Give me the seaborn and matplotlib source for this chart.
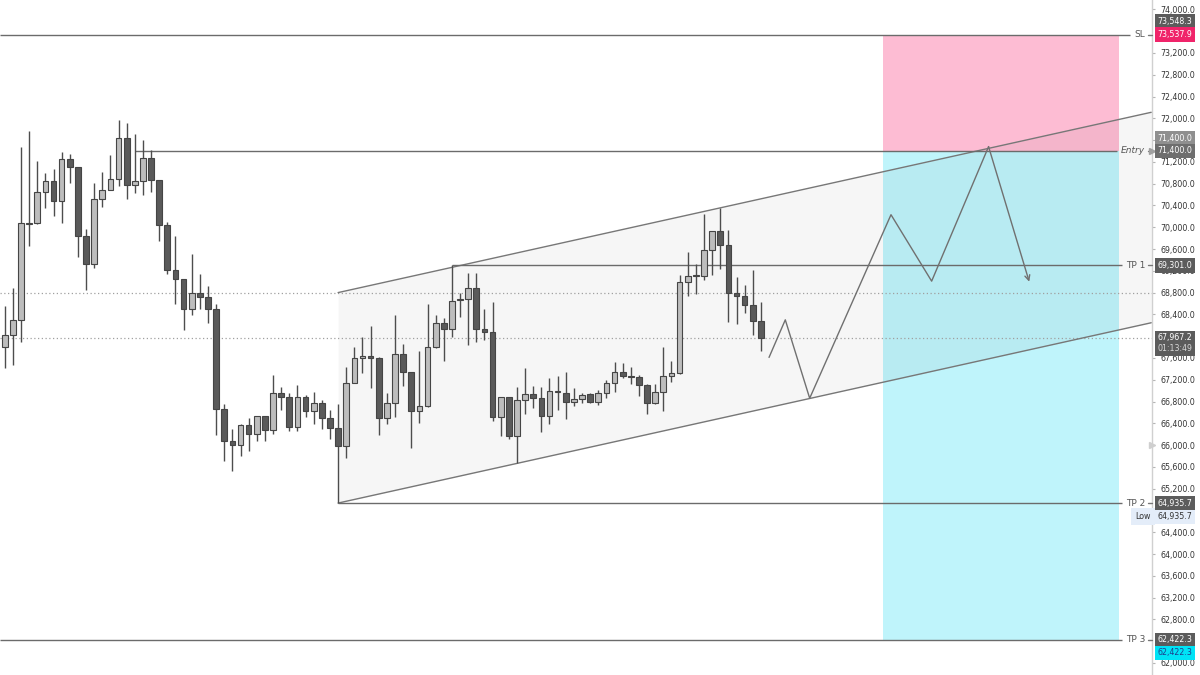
import matplotlib
matplotlib.use("Agg")
import matplotlib.pyplot as plt
import matplotlib.transforms as mtransforms
from matplotlib.ticker import FuncFormatter
import numpy as np
import pandas as pd
import seaborn as sns

# candles (oldest -> newest)
opens = [67810, 68030, 68300, 70060, 70070, 70640, 70850, 70490, 71250, 71110,
         69830, 69320, 70510, 70680, 70890, 71630, 70770, 70840, 71280, 70870,
         70040, 69220, 69050, 68490, 68790, 68720, 68490, 66660, 66080, 66000,
         66370, 66200, 66530, 66280, 66960, 66880, 66340, 66880, 66630, 66770,
         66500, 66310, 65980, 67140, 67590, 67640, 67590, 66490, 66770, 67670,
         67340, 66630, 66710, 67800, 68240, 68130, 68660, 68680, 68880, 68130,
         68080, 66520, 66880, 66170, 66820, 66940, 66860, 66540, 66980, 66960,
         66800, 66850, 66930, 66800, 66960, 67140, 67340, 67260, 67250, 67100,
         66770, 66970, 67260, 67320, 68990, 69100, 69110, 69580, 69930, 69670,
         68790, 68740, 68570, 68280]
highs = [68560, 68880, 71480, 71770, 71220, 70990, 71060, 71380, 71340, 71110,
         69970, 70810, 71020, 71330, 71970, 71920, 71710, 71610, 71420, 70870,
         70100, 69840, 69050, 69500, 69150, 68920, 68590, 66750, 66290, 66390,
         66490, 66530, 66530, 67290, 67070, 66960, 67100, 66920, 66970, 66830,
         66640, 66750, 67440, 67800, 67980, 68190, 67610, 66950, 68390, 67860,
         67340, 67730, 68590, 68390, 68330, 69301, 68800, 69160, 69160, 68490,
         68630, 66890, 66880, 67070, 67410, 67090, 67060, 67230, 67260, 67340,
         67040, 66960, 66960, 67020, 67200, 67530, 67510, 67440, 67290, 67120,
         67120, 67810, 67540, 69120, 69550, 69330, 70240, 69930, 70350, 69950,
         69090, 68940, 69220, 68630]
lows = [67410, 67470, 67890, 69650, 70060, 70350, 70210, 70070, 70810, 69460,
        68850, 69250, 70380, 70680, 70760, 70520, 70630, 70590, 70650, 69750,
        69150, 68590, 68110, 68380, 68490, 68250, 66190, 65710, 65520, 65800,
        65890, 66080, 66080, 66200, 66640, 66250, 66250, 66520, 66390, 66290,
        66120, 64935.7, 65760, 67140, 67330, 67050, 66190, 66390, 66510, 67090,
        65950, 66410, 66700, 67790, 67540, 67980, 68350, 67840, 67900, 67930,
        66450, 66170, 66110, 65670, 66570, 66690, 66240, 66380, 66640, 66470,
        66720, 66780, 66780, 66740, 66860, 66980, 67230, 67130, 66910, 66570,
        66750, 66630, 67150, 67300, 68730, 68770, 69030, 69120, 69230, 68260,
        68220, 68430, 68020, 67730]
closes = [68030, 68300, 70070, 70080, 70640, 70850, 70490, 71250, 71110, 69830,
          69320, 70510, 70680, 70890, 71630, 70780, 70840, 71280, 70870, 70040,
          69220, 69050, 68490, 68790, 68720, 68490, 66660, 66080, 66000, 66370,
          66200, 66530, 66280, 66960, 66880, 66340, 66880, 66630, 66770, 66500,
          66310, 65980, 67140, 67590, 67640, 67590, 66490, 66770, 67670, 67340,
          66630, 66710, 67800, 68240, 68130, 68650, 68680, 68880, 68130, 68080,
          66520, 66880, 66170, 66820, 66940, 66860, 66540, 67000, 67000, 66800,
          66850, 66920, 66800, 66960, 67140, 67340, 67260, 67250, 67100, 66770,
          66970, 67260, 67320, 68990, 69100, 69110, 69580, 69930, 69670, 68790,
          68740, 68570, 68280, 67967.2]

# trade levels: (label, price, bar where the line starts; None = left edge)
level_names = ["SL", "Entry", "TP 1", "TP 2", "TP 3"]
level_prices = [73537.9, 71400.0, 69301.0, 64935.7, 62422.3]
level_starts = [None, 16, 55, 41, None]

# dotted reference lines
dotted_prices = [68790, 67967.2]

# parallel channel anchors
channel_x = [41, 141]
channel_low = [64935.7, 68246]
channel_high = [68800, 72110]

# long/short position box
box_x = [108, 137]

# projected path
path_x = [94, 96, 99, 109, 114, 121, 126]
path_y = [67610, 68300, 66860, 70230, 69010, 71480, 69000]

# price axis (labels hidden behind the price tags are left out)
hidden_ticks = [73600, 71400, 68000, 64800, 62400]
tick_prices = [p for p in range(62000, 74001, 400) if p not in hidden_ticks]
ylim = (61779, 74172)
xlim = (-0.58, 141.1)

df = pd.DataFrame({"open": opens, "high": highs, "low": lows, "close": closes})
df["bar"] = np.arange(len(df))
df["up"] = df["close"] >= df["open"]

sns.set_theme(style="white")
plt.rcParams["font.family"] = ["DejaVu Sans"]

fig = plt.figure(figsize=(12, 6.75), dpi=100)
ax = fig.add_axes([0, 0, 1152 / 1200, 1])
ax.set_xlim(*xlim)
ax.set_ylim(*ylim)
blend = mtransforms.blended_transform_factory(ax.transAxes, ax.transData)

line_col = "#6b6b6b"

# position box
sl, entry, tp3 = level_prices[0], level_prices[1], level_prices[4]
ax.fill_between(box_x, entry, sl, color="#fdbcd3", lw=0, zorder=1)
ax.fill_between(box_x, tp3, entry, color="#bff4fb", lw=0, zorder=1)

# channel
ax.fill_between(channel_x, channel_low, channel_high, color="black", alpha=0.035,
                lw=0, zorder=2)
sns.lineplot(x=channel_x, y=channel_high, ax=ax, color="#777777", lw=1, zorder=3)
sns.lineplot(x=channel_x, y=channel_low, ax=ax, color="#777777", lw=1, zorder=3)

# dotted lines
for p in dotted_prices:
    ax.axhline(p, color="#a0a0a0", lw=0.9, ls=(0, (1, 2)), zorder=2)

# candles
wick_col = "#4d4d4d"
ax.vlines(df["bar"], df["low"], df["high"], color=wick_col, lw=1, zorder=4)
body_bottom = df[["open", "close"]].min(axis=1)
body_height = (df["close"] - df["open"]).abs().clip(lower=18)
colors = np.where(df["up"], "#bdbdbd", "#5a5a5a")
ax.bar(df["bar"], body_height, bottom=body_bottom, width=0.7, color=colors,
       edgecolor="#454545", linewidth=0.8, zorder=5)

# projected path
sns.lineplot(x=path_x[:-1], y=path_y[:-1], ax=ax, sort=False, estimator=None,
             color="#707070", lw=1, zorder=6)
ax.annotate("", xy=(path_x[-1], path_y[-1]), xytext=(path_x[-2], path_y[-2]),
            arrowprops=dict(arrowstyle="->", color="#707070", lw=1,
                            mutation_scale=9, shrinkA=0, shrinkB=0), zorder=6)

# level lines with their labels
fig.canvas.draw()
renderer = fig.canvas.get_renderer()
for name, price, start in zip(level_names, level_prices, level_starts):
    t = ax.text(0.994, price, name, transform=blend, ha="right", va="center",
                fontsize=6.5, color="#555555",
                style="italic" if name == "Entry" else "normal", zorder=7)
    bb = t.get_window_extent(renderer)
    x_end = ax.transData.inverted().transform((bb.x0 - 4, 0))[0]
    x_start = xlim[0] if start is None else start
    ax.hlines(price, x_start, x_end, color=line_col, lw=1, zorder=3)
    ax.plot([0.9962, 1.0], [price, price], transform=blend, color="#777777",
            lw=1, clip_on=False, zorder=7)

# right price scale
ax.yaxis.tick_right()
ax.set_yticks(tick_prices)
ax.yaxis.set_major_formatter(FuncFormatter(lambda v, _: f"{v:,.1f}"))
ax.tick_params(axis="y", direction="out", length=2.5, width=0.8, color="#b5b5b5",
               labelsize=5.7, labelcolor="#333333", pad=3.5)
ax.set_xticks([])
for side in ["top", "left", "bottom"]:
    ax.spines[side].set_visible(False)
ax.spines["right"].set_color("#d0d0d0")
ax.spines["right"].set_linewidth(1)


def price_tag(text, price, fc, tc="white", dy=0.0):
    ax.annotate(text, xy=(1, price), xycoords=blend, xytext=(3.8, dy),
                textcoords="offset points", ha="left", va="center", fontsize=5.7,
                color=tc, annotation_clip=False, zorder=12,
                bbox=dict(boxstyle="square,pad=0.35", fc=fc, ec="none"))


price_tag("73,548.3", 73548.3, "#5c5c5c", dy=9.3)
price_tag("73,537.9", 73537.9, "#f0246a")
price_tag("71,400.0", 71400.0, "#8f8f8f", dy=8.8)
price_tag("71,400.0", 71400.0, "#6e6e6e")
price_tag("69,301.0", 69301.0, "#5c5c5c")
price_tag("67,967.2", 67967.2, "#5c5c5c")
price_tag("01:13:49", 67967.2, "#5c5c5c", tc="#d8d8d8", dy=-7.4)
price_tag("64,935.7", 64935.7, "#5c5c5c")
price_tag("64,935.7", 64935.7, "#e4edf9", tc="#333333", dy=-10)
ax.annotate("Low", xy=(1, 64935.7), xycoords=blend, xytext=(-1, -10),
            textcoords="offset points", ha="right", va="center", fontsize=5.7,
            color="#333333", annotation_clip=False, zorder=12,
            bbox=dict(boxstyle="square,pad=0.5", fc="#e4edf9", ec="none"))
price_tag("62,422.3", 62422.3, "#5c5c5c")
price_tag("62,422.3", 62422.3, "#00e3f6", tc="#1e3c8c", dy=-9.3)

ax.plot(1.0, 71400.0, marker=">", ms=4.5, color="#a0a0a0", transform=blend,
        clip_on=False, zorder=11)
ax.plot(1.0, 66000, marker=">", ms=4, color="#cfcfcf", transform=blend,
        clip_on=False, zorder=11)

fig.savefig("out.png", dpi=100)
